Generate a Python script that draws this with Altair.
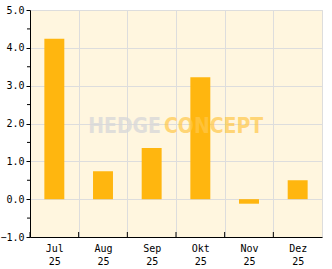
import altair as alt
import pandas as pd

months = ["Jul\n25", "Aug\n25", "Sep\n25", "Okt\n25", "Nov\n25", "Dez\n25"]
values = [4.24, 0.74, 1.35, 3.22, -0.12, 0.50]
major_ticks = [-1, 0, 1, 2, 3, 4, 5]
minor_ticks = [-0.5, 0.5, 1.5, 2.5, 3.5, 4.5]
wm_left = ["HEDGE"]
wm_right = ["CONCEPT"]

df = pd.DataFrame({"month": months, "value": values})
FONT = "DejaVu Sans Mono"

xscale = alt.Scale(domain=months, paddingInner=0, paddingOuter=0)
yscale = alt.Scale(domain=[-1, 5], nice=False, zero=False)

xaxis = alt.Axis(title=None, tickBand="extent", grid=True, gridColor="#dddddd",
                 domain=True, domainColor="#000000", ticks=False,
                 labelExpr="split(datum.label, '\\n')", labelFont=FONT,
                 labelFontSize=10, labelColor="#000000", labelLineHeight=13,
                 labelPadding=6, labelAngle=0)
yaxis = alt.Axis(title=None, values=major_ticks, format=".1f", grid=True,
                 gridColor="#dddddd", domainColor="#000000", tickColor="#000000",
                 tickSize=4, labelFont=FONT, labelFontSize=10, labelColor="#000000",
                 labelPadding=2, labelOverlap=False)

bars = alt.Chart(df).mark_bar(color="#FFB60F", width={"band": 0.41}).encode(
    x=alt.X("month:N", sort=months, scale=xscale, axis=xaxis),
    y=alt.Y("value:Q", scale=yscale, axis=yaxis),
    y2=alt.datum(0),
)

xticks = alt.Chart(df).mark_rule(color="#000000", strokeWidth=1).encode(
    x=alt.X("month:N", sort=months, scale=xscale, bandPosition=0, axis=xaxis),
    y=alt.value(222), y2=alt.value(227),
)

minor = alt.Chart(pd.DataFrame({"value": minor_ticks})).mark_rule(color="#000000", strokeWidth=1).encode(
    y=alt.Y("value:Q", scale=yscale, axis=yaxis),
    x=alt.value(-3), x2=alt.value(0),
)

wm1 = alt.Chart(pd.DataFrame({"t": wm_left})).mark_text(
    font="DejaVu Sans Condensed", fontWeight="bold", fontSize=21, align="right",
    baseline="alphabetic", color="#D9D9D9", opacity=0.8
).encode(text="t:N", x=alt.value(131), y=alt.value(123))

wm2 = alt.Chart(pd.DataFrame({"t": wm_right})).mark_text(
    font="DejaVu Sans Condensed", fontWeight="bold", fontSize=21, align="left",
    baseline="alphabetic", color="#FFC84A", opacity=0.7
).encode(text="t:N", x=alt.value(134), y=alt.value(123))

chart = alt.layer(bars, xticks, minor, wm1, wm2).properties(
    width=292, height=227,
    autosize=alt.AutoSizeParams(type="none"),
    padding={"left": 30, "top": 10, "right": 10, "bottom": 32},
    background="#ffffff",
).configure_view(fill="#FFF6DF", stroke="#dddddd", strokeWidth=1)

chart.save("out.html", embed_options={"renderer": "svg", "actions": False})
